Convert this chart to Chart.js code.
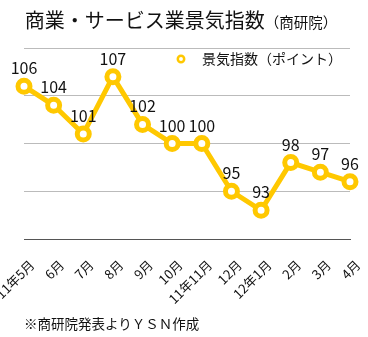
<!DOCTYPE html>
<html>
<head>
<meta charset="utf-8">
<script src="https://cdn.jsdelivr.net/npm/chart.js@4/dist/chart.umd.min.js"></script>
<style>
body { margin: 0; background: #fff; font-family: "Noto Sans CJK JP", "Noto Sans", sans-serif; }
#wrap { position: relative; width: 368px; height: 337px; overflow: hidden; }
#title {
    position: absolute; left: 0; top: 6px; width: 362px;
    text-align: center; font-size: 20px; line-height: 28px; color: #111;
}
#title small { font-size: 14.5px; }
#note {
    position: absolute; left: 24px; top: 313px;
    font-size: 13.5px; line-height: 20px; color: #111;
}
canvas { position: absolute; left: 0; top: 0; }
</style>
</head>
<body>
<div id="wrap">
    <canvas id="c" width="368" height="337"></canvas>
    <div id="title">商業・サービス業景気指数<small>（商研院）</small></div>
    <div id="note">※商研院発表よりＹＳＮ作成</div>
</div>
<script>
var months = ["11年5月", "6月", "7月", "8月", "9月", "10月", "11年11月", "12月", "12年1月", "2月", "3月", "4月"];
var index = [106, 104, 101, 107, 102, 100, 100, 95, 93, 98, 97, 96];
var seriesName = "景気指数（ポイント）";
var yellow = "#FFC800";
var fontJP = "'Noto Sans CJK JP', sans-serif";

// value labels above each point
var valueLabels = {
    id: "valueLabels",
    afterDatasetsDraw: function(chart) {
        var ctx = chart.ctx;
        var meta = chart.getDatasetMeta(0);
        ctx.save();
        ctx.font = "16px " + fontJP;
        ctx.fillStyle = "#111";
        ctx.textAlign = "center";
        ctx.textBaseline = "middle";
        meta.data.forEach(function(pt, i) {
            ctx.fillText(String(index[i]), pt.x, pt.y - 18);
        });
        ctx.restore();
    }
};

// legend sitting inside the plot, top right
var innerLegend = {
    id: "innerLegend",
    afterDatasetsDraw: function(chart) {
        var ctx = chart.ctx;
        var area = chart.chartArea;
        var label = chart.data.datasets[0].label;
        ctx.save();
        ctx.font = "14px " + fontJP;
        var w = ctx.measureText(label).width;
        var tx = area.right - 8 - w;
        var ty = area.top + 11;
        ctx.fillStyle = "#111";
        ctx.textBaseline = "middle";
        ctx.fillText(label, tx, ty);
        ctx.beginPath();
        ctx.arc(tx - 21, ty, 3.2, 0, Math.PI * 2);
        ctx.fillStyle = "#fff";
        ctx.fill();
        ctx.lineWidth = 2.5;
        ctx.strokeStyle = yellow;
        ctx.stroke();
        ctx.restore();
    }
};

new Chart(document.getElementById("c"), {
    type: "line",
    data: {
        labels: months,
        datasets: [{
            label: seriesName,
            data: index,
            borderColor: yellow,
            borderWidth: 5,
            pointRadius: 6,
            pointHoverRadius: 6,
            pointBorderWidth: 5,
            pointBackgroundColor: "#fff",
            pointBorderColor: yellow,
            tension: 0
        }]
    },
    options: {
        responsive: false,
        animation: false,
        layout: { padding: { left: 24, right: 18, top: 48, bottom: 0 } },
        plugins: {
            title: { display: false },
            tooltip: { enabled: false },
            legend: { display: false }
        },
        scales: {
            x: {
                grid: { display: false },
                border: { display: true, color: "#555", width: 1 },
                ticks: {
                    autoSkip: false,
                    maxRotation: 45,
                    minRotation: 45,
                    padding: 10,
                    labelOffset: 8,
                    color: "#111",
                    font: { size: 13, family: fontJP }
                },
                afterFit: function(s) {
                    s.height = 98;
                    s.paddingLeft = 0;
                    s.paddingRight = 0;
                }
            },
            y: {
                min: 90,
                max: 110,
                ticks: { display: false, stepSize: 5 },
                border: { display: false },
                grid: { color: "#bbb", lineWidth: 1, drawTicks: false },
                afterFit: function(s) { s.width = 0; }
            }
        }
    },
    plugins: [valueLabels, innerLegend]
});
</script>
</body>
</html>
